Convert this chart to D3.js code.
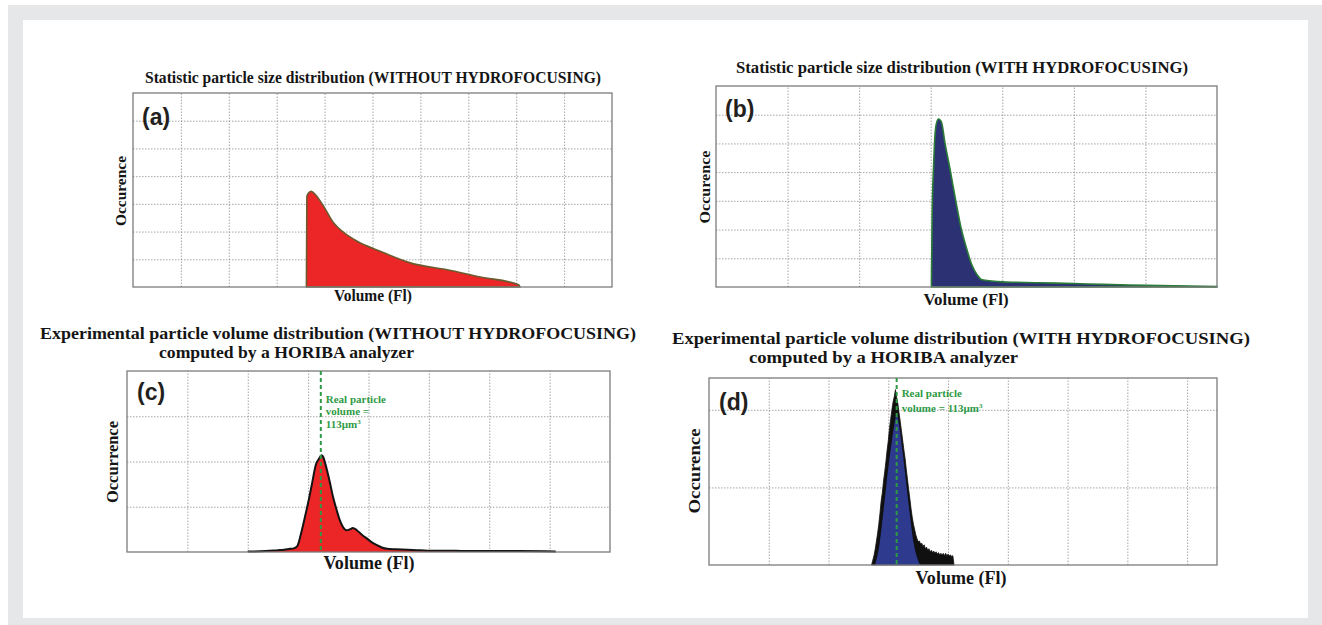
<!DOCTYPE html>
<html>
<head>
<meta charset="utf-8">
<script src="https://cdn.jsdelivr.net/npm/d3@7"></script>
<style>
  body { margin: 0; background: #fff; }
  svg { display: block; }
  .serif { font-family: 'Liberation Serif', 'Times New Roman', serif; font-weight: bold; fill: #151515; }
  .tag { font-family: 'Liberation Sans', Arial, sans-serif; font-weight: bold; fill: #231f20; }
  .grid line { stroke: #8f8f8f; stroke-dasharray: 1.5,1.5; stroke-width: 0.8; }
  .grid .domain { display: none; }
  .frame { fill: none; stroke: #7c7c7c; stroke-width: 1.3; }
  .note { font-family: 'Liberation Serif', serif; font-weight: bold; fill: #2f9a45; font-size: 11px; }
</style>
</head>
<body>
<svg id="chart"></svg>
<script>
// values, in grid units
const aVolume = [3.62, 3.63, 3.67, 3.72, 3.81, 3.98, 4.19, 4.29, 4.68, 5.16, 5.79, 6.56, 7.25, 8.05, 8.08];
const aCount  = [0, 3.27, 3.40, 3.45, 3.33, 2.91, 2.31, 2.13, 1.65, 1.29, 0.87, 0.62, 0.36, 0.08, 0];

const bVolume = [3.01, 3.02, 3.04, 3.06, 3.08, 3.11, 3.15, 3.2, 3.27, 3.35, 3.42, 3.5, 3.57, 3.65, 3.72, 3.85, 4.0, 4.5, 5.0, 5.4, 6.0, 7.0];
const bCount  = [0, 2.5, 4.2, 5.3, 5.7, 5.85, 5.74, 5.0, 4.1, 3.0, 2.1, 1.35, 0.8, 0.42, 0.25, 0.21, 0.18, 0.15, 0.12, 0.09, 0.06, 0.02];

const cVolume = [2.0, 2.3, 2.5, 2.6, 2.7, 2.76, 2.82, 2.89, 2.96, 3.01, 3.06, 3.13, 3.18, 3.22, 3.25, 3.28, 3.32, 3.36, 3.41, 3.47, 3.52, 3.57, 3.64, 3.69, 3.74, 3.79, 3.84, 3.9, 3.97, 4.05, 4.14, 4.22, 4.31, 4.45, 4.65, 4.8, 4.98, 5.3, 5.6, 6.0, 6.5, 7.1];
const cCount  = [0.01, 0.02, 0.04, 0.05, 0.07, 0.08, 0.13, 0.45, 0.85, 1.15, 1.48, 1.94, 2.06, 2.14, 2.1, 1.97, 1.77, 1.54, 1.23, 0.94, 0.72, 0.57, 0.48, 0.5, 0.53, 0.5, 0.44, 0.37, 0.30, 0.22, 0.15, 0.1, 0.07, 0.06, 0.05, 0.04, 0.03, 0.03, 0.02, 0.02, 0.02, 0.01];

// raw histogram (black) and smoothed fill (blue) of panel d
const dRawVolume = [2.72, 2.74, 2.76, 2.78, 2.80, 2.82, 2.84, 2.86, 2.88, 2.90, 2.92, 2.94, 2.96, 2.98, 3.00, 3.02, 3.04, 3.06, 3.08, 3.10,
  3.12, 3.14, 3.16, 3.18, 3.20, 3.22, 3.24, 3.26, 3.28, 3.30, 3.32, 3.34, 3.36, 3.38, 3.40, 3.42, 3.44, 3.46, 3.48, 3.50,
  3.52, 3.54, 3.56, 3.58, 3.60, 3.62, 3.64, 3.66, 3.68, 3.70, 3.72, 3.74, 3.76, 3.78, 3.80, 3.82, 3.84, 3.86, 3.88, 3.90,
  3.92, 3.94, 3.96, 3.98, 4.00, 4.02, 4.04, 4.06, 4.08, 4.10];
const dRawCount = [0.00, 0.06, 0.12, 0.20, 0.30, 0.40, 0.52, 0.66, 0.82, 0.93, 1.08, 1.20, 1.33, 1.48, 1.60, 1.76, 1.88, 2.00, 2.10, 2.17,
  2.26, 2.16, 2.08, 1.96, 1.85, 1.73, 1.61, 1.49, 1.38, 1.24, 1.11, 0.98, 0.86, 0.73, 0.62, 0.53, 0.46, 0.39, 0.34, 0.30,
  0.31, 0.27, 0.28, 0.24, 0.26, 0.21, 0.23, 0.19, 0.21, 0.17, 0.19, 0.16, 0.18, 0.15, 0.17, 0.14, 0.16, 0.13, 0.15, 0.13,
  0.15, 0.12, 0.15, 0.12, 0.14, 0.12, 0.13, 0.11, 0.12, 0.00];
const dFitVolume = [2.78, 2.85, 2.92, 3.0, 3.06, 3.1, 3.14, 3.18, 3.24, 3.3, 3.36, 3.42, 3.48, 3.53];
const dFitCount  = [0, 0.25, 0.7, 1.25, 1.6, 1.8, 1.94, 1.8, 1.45, 1.05, 0.65, 0.3, 0.1, 0];

const realVolumeC = 3.21;
const realVolumeD = 3.14;

const aGridX = [1, 2, 3, 4, 5, 6, 7, 8, 9], aGridY = [1, 2, 3, 4, 5, 6];
const bGridX = [1, 2, 3, 4, 5, 6],          bGridY = [1, 2, 3, 4, 5, 6];
const cGridX = [1, 2, 3, 4, 5, 6, 7],       cGridY = [1, 2, 3];
const dGridX = [1, 2, 3, 4, 5, 6, 7, 8],    dGridY = [1, 2];

const svg = d3.select('#chart').attr('width', 1322).attr('height', 625);

svg.append('rect').attr('x', 8).attr('y', 5).attr('width', 1314).attr('height', 620).attr('fill', '#e6e7e8');
svg.append('rect').attr('x', 23).attr('y', 20).attr('width', 1285).attr('height', 598).attr('fill', '#fff');

function label(text, x, y, cls, size, len, anchor, rotate) {
  const t = svg.append('text')
      .attr('class', cls)
      .attr('text-anchor', anchor || 'start')
      .style('font-size', size + 'px')
      .text(text);
  if (rotate) t.attr('transform', `translate(${x},${y}) rotate(-90)`);
  else t.attr('x', x).attr('y', y);
  if (len) t.attr('textLength', len).attr('lengthAdjust', 'spacingAndGlyphs');
  return t;
}

class DistPanel {
  constructor(_config) {
    this.config = {
      box: _config.box,            // left, top, right, bottom
      xMax: _config.xMax,
      yMax: _config.yMax,
      gridX: _config.gridX,
      gridY: _config.gridY
    };
    this.initVis();
  }

  initVis() {
    let vis = this;
    const [l, t, r, b] = vis.config.box;
    vis.width = r - l;
    vis.height = b - t;

    vis.xScale = d3.scaleLinear().domain([0, vis.config.xMax]).range([0, vis.width]);
    vis.yScale = d3.scaleLinear().domain([0, vis.config.yMax]).range([vis.height, 0]);

    vis.chart = svg.append('g').attr('transform', `translate(${l},${t})`);

    vis.chart.append('g')
        .attr('class', 'grid')
        .attr('transform', `translate(0,${vis.height})`)
        .call(d3.axisBottom(vis.xScale).tickValues(vis.config.gridX).tickSize(-vis.height).tickFormat(''));

    vis.chart.append('g')
        .attr('class', 'grid')
        .call(d3.axisLeft(vis.yScale).tickValues(vis.config.gridY).tickSize(-vis.width).tickFormat(''));

    vis.marks = vis.chart.append('g');

    vis.chart.append('rect')
        .attr('class', 'frame')
        .attr('width', vis.width)
        .attr('height', vis.height);

    vis.overlay = vis.chart.append('g');
  }

  addArea(xs, ys, fill, stroke, strokeWidth, curve) {
    let vis = this;
    const pts = xs.map((x, i) => [x, ys[i]]);
    const area = d3.area()
        .x(d => vis.xScale(d[0]))
        .y0(vis.yScale(0))
        .y1(d => vis.yScale(d[1]))
        .curve(curve || d3.curveMonotoneX);
    vis.marks.append('path')
        .datum(pts)
        .attr('d', area)
        .attr('fill', fill)
        .attr('stroke', stroke || 'none')
        .attr('stroke-width', strokeWidth || 0)
        .attr('stroke-linejoin', 'round');
  }

  addLine(xs, ys, stroke, strokeWidth) {
    let vis = this;
    const pts = xs.map((x, i) => [x, ys[i]]);
    vis.marks.append('path')
        .datum(pts)
        .attr('d', d3.line().x(d => vis.xScale(d[0])).y(d => vis.yScale(d[1])).curve(d3.curveMonotoneX))
        .attr('fill', 'none')
        .attr('stroke', stroke)
        .attr('stroke-width', strokeWidth)
        .attr('stroke-linejoin', 'round');
  }

  addMarker(value, lines) {
    let vis = this;
    const x = vis.xScale(value);
    vis.overlay.append('line')
        .attr('x1', x).attr('x2', x)
        .attr('y1', 0).attr('y2', vis.height)
        .attr('stroke', '#2f9a45')
        .attr('stroke-width', 2)
        .attr('stroke-dasharray', '4,3');
    lines.forEach(d => {
      const t = vis.overlay.append('text')
          .attr('class', 'note')
          .attr('x', x + d.dx)
          .attr('y', d.y - vis.config.box[1]);
      t.append('tspan').text(d.text);
      if (d.sup) t.append('tspan').attr('dy', -4).style('font-size', '7px').text(d.sup);
    });
  }
}

// (a)
const panelA = new DistPanel({ box: [133, 93, 612, 287], xMax: 10, yMax: 7, gridX: aGridX, gridY: aGridY });
panelA.addArea(aVolume, aCount, '#ec2526', '#6b5b2e', 1.6);
label('Statistic particle size distribution (WITHOUT HYDROFOCUSING)', 145, 83, 'serif', 16, 456);
label('Occurence', 126, 191, 'serif', 15, 70, 'middle', true);
label('Volume (Fl)', 373, 301, 'serif', 16, 78, 'middle');
label('(a)', 142, 125, 'tag', 23);

// (b)
const panelB = new DistPanel({ box: [716, 86, 1217, 287], xMax: 7, yMax: 7, gridX: bGridX, gridY: bGridY });
panelB.addArea(bVolume, bCount, '#2b3173', '#2a7a38', 1.6);
label('Statistic particle size distribution (WITH HYDROFOCUSING)', 736, 73, 'serif', 16, 452);
label('Occurence', 710, 187, 'serif', 15, 73, 'middle', true);
label('Volume (Fl)', 966, 305, 'serif', 17, 85, 'middle');
label('(b)', 725, 117, 'tag', 23);

// (c)
const panelC = new DistPanel({ box: [127, 371, 610, 552], xMax: 8, yMax: 4, gridX: cGridX, gridY: cGridY });
panelC.addArea(cVolume, cCount, '#ec2526');
panelC.addLine(cVolume, cCount, '#141414', 2);
panelC.addMarker(realVolumeC, [
  { text: 'Real particle', dx: 5, y: 403 },
  { text: 'volume =', dx: 5, y: 415 },
  { text: '113µm', sup: '3', dx: 5, y: 428 }
]);
label('Experimental particle volume distribution (WITHOUT HYDROFOCUSING)', 40, 339, 'serif', 17, 596);
label('computed by a HORIBA analyzer', 159, 358, 'serif', 17, 255);
label('Occurrence', 118, 462, 'serif', 17, 82, 'middle', true);
label('Volume (Fl)', 369, 569, 'serif', 18, 91, 'middle');
label('(c)', 137, 400, 'tag', 23);

// (d)
const panelD = new DistPanel({ box: [709, 378, 1217, 565], xMax: 8.5, yMax: 2.41, gridX: dGridX, gridY: dGridY });
panelD.addArea(dRawVolume, dRawCount, '#101010', '#101010', 0.8, d3.curveLinear);
panelD.addArea(dFitVolume, dFitCount, '#2e3a8e');
panelD.addMarker(realVolumeD, [
  { text: 'Real particle', dx: 5, y: 397 },
  { text: 'volume = 113µm', sup: '3', dx: 5, y: 412 }
]);
label('Experimental particle volume distribution (WITH HYDROFOCUSING)', 672, 344, 'serif', 17, 578);
label('computed by a HORIBA analyzer', 749, 363, 'serif', 17, 269);
label('Occurence', 700, 471, 'serif', 17, 85, 'middle', true);
label('Volume (Fl)', 961, 584, 'serif', 18, 91, 'middle');
label('(d)', 719, 410, 'tag', 23);
</script>
</body>
</html>
